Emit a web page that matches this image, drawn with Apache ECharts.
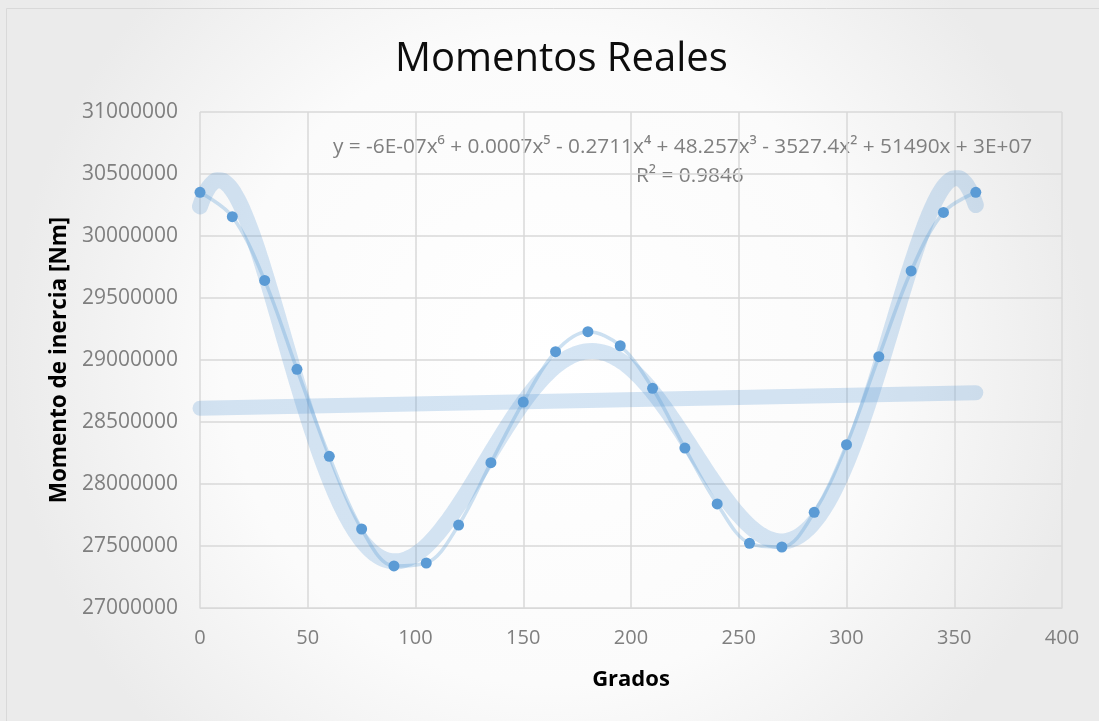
<!DOCTYPE html>
<html>
<head>
<meta charset="utf-8">
<title>Momentos Reales</title>
<script src="https://cdn.jsdelivr.net/npm/echarts@6/dist/echarts.min.js"></script>
<style>
  html, body { margin: 0; padding: 0; background: #fff; }
  #chart { width: 1099px; height: 721px; }
</style>
</head>
<body>
<div id="chart"></div>
<script>
// datos
var grados = [0, 15, 30, 45, 60, 75, 90, 105, 120, 135, 150, 165, 180,
  195, 210, 225, 240, 255, 270, 285, 300, 315, 330, 345, 360];
var momentos = [30352000, 30156000, 29642000, 28925000, 28223000, 27637000,
  27339000, 27363000, 27669000, 28172000, 28661000, 29067000, 29228000,
  29115000, 28772000, 28290000, 27839000, 27522000, 27492000, 27772000,
  28317000, 29027000, 29718000, 30190000, 30352000];
var ticksX = [0, 50, 100, 150, 200, 250, 300, 350, 400];
var ticksY = [27000000, 27500000, 28000000, 28500000, 29000000, 29500000,
  30000000, 30500000, 31000000];

var puntos = grados.map(function (g, i) { return [g, momentos[i]]; });

// ajuste por minimos cuadrados (x escalado a [0,1])
function ajustePoli(xs, ys, grado) {
  var n = grado + 1;
  var A = [];
  for (var r = 0; r < n; r++) { A.push(new Array(n + 1).fill(0)); }
  xs.forEach(function (x, k) {
    var t = x / 360;
    for (var r = 0; r < n; r++) {
      for (var c = 0; c < n; c++) { A[r][c] += Math.pow(t, r + c); }
      A[r][n] += ys[k] * Math.pow(t, r);
    }
  });
  for (var p = 0; p < n; p++) {
    var max = p;
    for (var q = p + 1; q < n; q++) { if (Math.abs(A[q][p]) > Math.abs(A[max][p])) max = q; }
    var tmp = A[p]; A[p] = A[max]; A[max] = tmp;
    for (var q2 = p + 1; q2 < n; q2++) {
      var f = A[q2][p] / A[p][p];
      for (var c2 = p; c2 <= n; c2++) { A[q2][c2] -= f * A[p][c2]; }
    }
  }
  var coef = new Array(n).fill(0);
  for (var i = n - 1; i >= 0; i--) {
    var s = A[i][n];
    for (var j = i + 1; j < n; j++) { s -= A[i][j] * coef[j]; }
    coef[i] = s / A[i][i];
  }
  return function (x) {
    var t = x / 360, v = 0;
    for (var k = 0; k < n; k++) { v += coef[k] * Math.pow(t, k); }
    return v;
  };
}

var poli6 = ajustePoli(grados, momentos, 6);
var lineal = ajustePoli(grados, momentos, 1);
var curvaPoli = [];
for (var x = 0; x <= 360; x += 2) { curvaPoli.push([x, poli6(x)]); }
var curvaLineal = [[0, lineal(0)], [360, lineal(360)]];

var fuente = "'Open Sans', 'Noto Sans', sans-serif";
var myChart = echarts.init(document.getElementById('chart'));

var option = {
  backgroundColor: new echarts.graphic.RadialGradient(0.5, 0.5, 0.75, [
    { offset: 0, color: '#ffffff' },
    { offset: 0.6, color: '#fbfbfb' },
    { offset: 1, color: '#ebebeb' }
  ]),
  animation: false,
  title: {
    text: 'Momentos Reales',
    left: 390,
    top: 35,
    textStyle: { fontFamily: fuente, fontSize: 40, fontWeight: 'normal', color: '#0d0d0d' }
  },
  grid: {
    left: 200, right: 37, top: 112, bottom: 113,
    containLabel: false,
    outerBoundsMode: 'none'
  },
  xAxis: {
    type: 'value',
    min: 0, max: 400, interval: 50,
    name: 'Grados',
    nameLocation: 'middle',
    nameGap: 61,
    nameTextStyle: { fontFamily: fuente, fontSize: 22, fontWeight: 'bold', color: '#000' },
    axisLine: { show: true, lineStyle: { color: '#d9d9d9' } },
    axisTick: { show: false },
    axisLabel: {
      color: '#7f7f7f', fontFamily: fuente, fontSize: 20, margin: 20,
      formatter: function (v) { return ticksX.indexOf(v) >= 0 ? String(v) : ''; }
    },
    splitLine: { show: true, lineStyle: { color: '#d9d9d9', width: 1.5 } }
  },
  yAxis: {
    type: 'value',
    min: 27000000, max: 31000000, interval: 500000,
    name: 'Momento de inercia [Nm]',
    nameLocation: 'middle',
    nameGap: 128,
    nameTextStyle: { fontFamily: fuente, fontSize: 22.5, fontWeight: 'bold', color: '#000' },
    axisLine: { show: false },
    axisTick: { show: false },
    axisLabel: {
      color: '#7f7f7f', fontFamily: fuente, fontSize: 21, margin: 22,
      formatter: function (v) { return ticksY.indexOf(v) >= 0 ? String(v) : ''; }
    },
    splitLine: { show: true, lineStyle: { color: '#d9d9d9', width: 1.5 } }
  },
  graphic: [
    {
      type: 'rect', silent: true,
      shape: { x: 6.5, y: 8.5, width: 1120, height: 740 },
      style: { fill: 'none', stroke: '#d9d9d9', lineWidth: 1 }
    },
    {
      type: 'text', left: 333, top: 137, silent: true,
      style: {
        text: 'y = -6E-07x\u2076 + 0.0007x\u2075 - 0.2711x\u2074 + 48.257x\u00b3 - 3527.4x\u00b2 + 51490x + 3E+07',
        fontFamily: fuente, fontSize: 20.8, fill: '#7f7f7f'
      }
    },
    {
      type: 'text', left: 636, top: 166, silent: true,
      style: { text: 'R\u00b2 = 0.9846', fontFamily: fuente, fontSize: 20.8, fill: '#7f7f7f' }
    }
  ],
  series: [
    {
      name: 'Lineal',
      type: 'line',
      data: curvaLineal,
      showSymbol: false,
      lineStyle: { color: 'rgba(91,155,213,0.26)', width: 15, cap: 'round' },
      z: 1
    },
    {
      name: 'Poli6',
      type: 'line',
      data: curvaPoli,
      showSymbol: false,
      smooth: true,
      lineStyle: { color: 'rgba(91,155,213,0.26)', width: 16, cap: 'round', join: 'round' },
      z: 2
    },
    {
      name: 'Serie',
      type: 'line',
      data: puntos,
      smooth: 0.35,
      showSymbol: false,
      lineStyle: { color: 'rgba(91,155,213,0.3)', width: 3.5 },
      z: 3
    },
    {
      name: 'Puntos',
      type: 'scatter',
      data: puntos,
      symbolSize: 11,
      itemStyle: { color: '#5b9bd5', opacity: 1 },
      z: 4
    }
  ]
};

myChart.setOption(option);
</script>
</body>
</html>
